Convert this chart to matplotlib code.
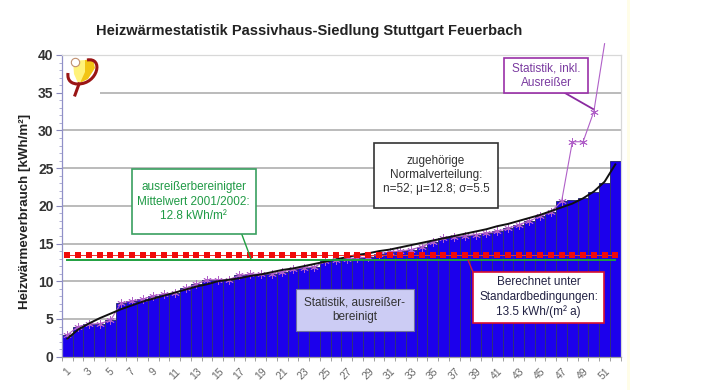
import numpy as np
import matplotlib
matplotlib.use('Agg')
import matplotlib.pyplot as plt
from matplotlib.patches import Polygon, PathPatch
from matplotlib.path import Path
from matplotlib.transforms import ScaledTranslation

# sorted consumption per house, kWh/m2
bereinigt = [2.9, 4.0, 4.3, 4.4, 4.8, 7.1, 7.4, 7.6, 8.1, 8.3, 8.4, 9.1, 9.6,
             10.2, 10.2, 10.2, 10.8, 10.9, 11.0, 11.0, 11.2, 11.6, 11.8, 11.9,
             12.7, 12.8, 13.0, 13.1, 13.2, 13.6, 13.9, 14.0, 14.2, 14.6, 15.2,
             15.8, 15.9, 16.0, 16.2, 16.4, 16.6, 17.0, 17.5, 18.0, 18.6, 19.2,
             20.6, 20.8, 21.0, 21.9, 23.0, 26.0]
inkl_tail = [28.5, 28.5, 32.5, 41.5]
normal = [2.4, 3.6, 4.4, 5.1, 5.7, 6.3, 6.8, 7.3, 7.7, 8.1, 8.5, 8.9, 9.3, 9.6,
          10.0, 10.2, 10.4, 10.7, 10.9, 11.2, 11.5, 11.7, 12.0, 12.3, 12.6,
          12.9, 13.2, 13.5, 13.7, 14.0, 14.2, 14.5, 14.8, 15.1, 15.4, 15.7,
          16.0, 16.3, 16.6, 16.9, 17.3, 17.6, 18.0, 18.4, 18.8, 19.3, 19.8,
          20.3, 21.0, 21.9, 23.2, 25.5]
mittelwert = 12.8
berechnet = 13.5
haeuser = np.arange(1, 53)
inkl = bereinigt[:47] + inkl_tail

W, H = 705, 390
plt.rcParams['font.family'] = ['Liberation Sans', 'DejaVu Sans']
fig = plt.figure(figsize=(W / 100, H / 100), dpi=100)
ax = fig.add_axes([62 / W, 1 - 356.7 / H, (620.7 - 62) / W, (356.7 - 55) / H])
ax.set_xlim(0.5, 52.5)
ax.set_ylim(0, 40)

ax.bar(haeuser, bereinigt, width=1.0, color='#1c00ec', edgecolor='#303078', linewidth=0.7, zorder=2)
ax.yaxis.grid(True, color='#a8a8a8', linewidth=1.1, zorder=0)
ax.set_axisbelow(True)

ax.plot(haeuser[:len(inkl)], inkl, color='#b060c8', lw=0.8, marker=(6, 2, 0), ms=6, mew=0.6,
        markevery=list(range(len(inkl) - 1)), zorder=3, clip_on=False)
ax.plot(haeuser, normal, color='#111111', lw=1.4, zorder=4)
ax.plot(haeuser, [mittelwert] * 52, color='#1fa040', lw=1.4, zorder=4)
ax.plot(haeuser, [berechnet] * 52, color='#ee3030', lw=0.7, zorder=5)
ax.plot(haeuser, [berechnet] * 52, ls='none', marker='s', ms=3.8, mew=0, color='#f00a0a', zorder=5)

ax.set_yticks(range(0, 41, 5))
ax.set_yticks(range(0, 41), minor=True)
ax.set_xticks(haeuser[::2])
ax.set_xticks(np.arange(0.5, 53), minor=True)
ax.set_xticklabels([str(h) for h in haeuser[::2]], rotation=45, fontsize=7.5, color='#666666')
shift = ScaledTranslation(-5 / 100, 0, fig.dpi_scale_trans)
for lab in ax.get_xticklabels():
    lab.set_transform(lab.get_transform() + shift)
ax.tick_params(axis='x', which='major', length=0, pad=7)
ax.tick_params(axis='x', which='minor', length=3, color='#a0a0a0', width=0.7)
ax.tick_params(axis='y', which='major', length=4, color='#8888bb', width=0.8, labelsize=10, pad=2)
ax.tick_params(axis='y', which='minor', length=2, color='#a0a0cc', width=0.6)
for lab in ax.get_yticklabels():
    lab.set_fontweight('bold')
    lab.set_color('#333333')
for s in ax.spines.values():
    s.set_color('#d8d8d8')
    s.set_linewidth(0.9)
ax.spines['left'].set_color('#9090c8')
ax.spines['bottom'].set_color('#a0a0a0')

fig.text(309 / W, 1 - 31 / H, 'Heizwärmestatistik Passivhaus-Siedlung Stuttgart Feuerbach',
         ha='center', va='center', fontsize=10.55, fontweight='bold', color='#222222')
fig.text(25.5 / W, 1 - 211 / H, 'Heizwärmeverbrauch [kWh/m²]', rotation=90, ha='center', va='center',
         fontsize=9.6, fontweight='bold', color='#222222')


# text boxes, pixel positions of the reference
def box(x0, y0, x1, y1, txt, col, edge, face='white', lw=1.2, fs=8.5):
    r = plt.Rectangle((x0 / W, 1 - y1 / H), (x1 - x0) / W, (y1 - y0) / H, transform=fig.transFigure,
                      facecolor=face, edgecolor=edge, lw=lw, zorder=6, clip_on=False)
    ax.add_artist(r)
    ax.text((x0 + x1) / 2 / W, 1 - (y0 + y1) / 2 / H, txt, transform=fig.transFigure, ha='center',
            va='center', fontsize=fs, color=col, zorder=7, linespacing=1.25)


def leader(x0, y0, x1, y1, col, lw=1.0):
    ax.plot([x0 / W, x1 / W], [1 - y0 / H, 1 - y1 / H], transform=fig.transFigure, color=col, lw=lw,
            zorder=6, clip_on=False)


leader(241.7, 234, 251, 259, '#1fa040')
leader(468, 260, 473, 272, '#cc2040')
leader(565, 93, 593, 109, '#8a2aa0', 1.3)
box(132, 169, 255.5, 234, 'ausreißerbereinigter\nMittelwert 2001/2002:\n12.8 kWh/m²', '#1f9a45', '#3aa060')
box(374, 143, 498, 207.5, 'zugehörige\nNormalverteilung:\nn=52; μ=12.8; σ=5.5', '#333333', '#333333')
box(504, 58, 588, 93, 'Statistik, inkl.\nAusreißer', '#7a3aa0', '#9a30a8')
box(295.5, 289, 414, 331, 'Statistik, ausreißer-\nbereinigt', '#333333', '#7070a0', face='#ccccf4', lw=0.8)
box(473, 272, 604, 322.5, 'Berechnet unter\nStandardbedingungen:\n13.5 kWh/(m² a)', '#222244', '#d81030')

# logo
ax.add_artist(plt.Rectangle((63 / W, 1 - 97 / H), 37 / W, 40 / H, transform=fig.transFigure,
                            facecolor='white', edgecolor='none', zorder=1))


def pts(p):
    return [(x / W, 1 - y / H) for x, y in p]


ax.add_patch(Polygon(pts([(73, 61), (85, 60), (87, 70), (82, 81), (78, 83), (74, 74)]), closed=True,
                     transform=fig.transFigure, facecolor='#fff27a', edgecolor='none', zorder=2, clip_on=False))
ax.add_patch(Polygon(pts([(85, 60), (93, 59), (95, 68), (88, 79), (80, 83), (85, 72)]), closed=True,
                     transform=fig.transFigure, facecolor='#f2c414', edgecolor='none', zorder=2, clip_on=False))
C4 = [Path.MOVETO, Path.CURVE4, Path.CURVE4, Path.CURVE4]
for arm in ([(68, 73), (67, 81), (72, 84), (78, 84)], [(78, 84), (98, 84), (104, 57), (87, 60)]):
    ax.add_patch(PathPatch(Path(pts(arm), C4), transform=fig.transFigure, facecolor='none',
                           edgecolor='#9a1515', lw=2.2, zorder=3, clip_on=False))
ax.plot([79 / W, 75 / W], [1 - 84 / H, 1 - 95 / H], transform=fig.transFigure, color='#9a1515', lw=2.2,
        zorder=3, clip_on=False)
ax.plot([75 / W], [1 - 62 / H], transform=fig.transFigure, marker='o', ms=6, mfc='white', mec='#c09070',
        mew=0.8, zorder=4, clip_on=False)

# pale strip right of the chart
fig.patches.append(plt.Rectangle((627 / W, 0), 3 / W, 1, transform=fig.transFigure, facecolor='#fffde8',
                                 edgecolor='none'))

fig.savefig('out.png', dpi=100)
